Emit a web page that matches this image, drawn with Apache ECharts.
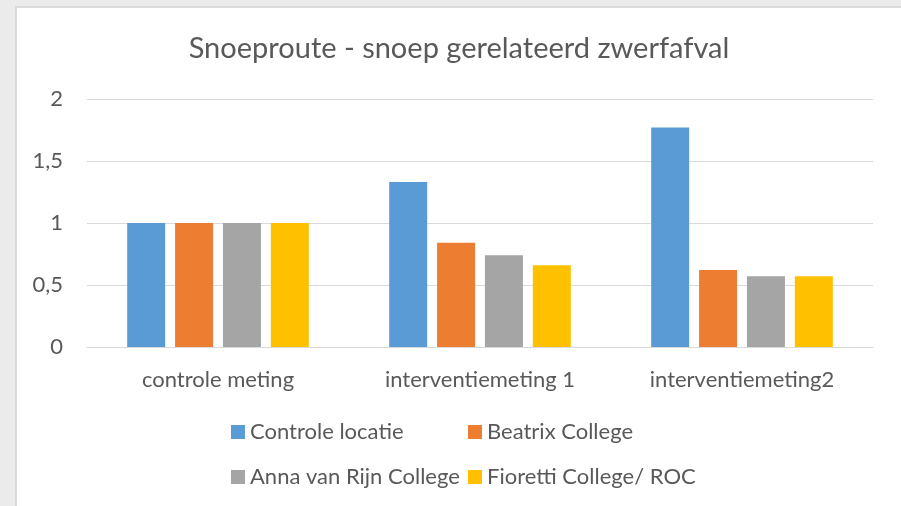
<!DOCTYPE html>
<html>
<head>
<meta charset="utf-8">
<script src="https://cdn.jsdelivr.net/npm/echarts@6/dist/echarts.min.js"></script>
<style>
	html,body{margin:0;padding:0;background:#ebebeb;width:901px;height:506px;overflow:hidden;}
	#main{position:absolute;left:15px;top:6px;width:884px;height:498px;background:#fff;border-left:2px solid #dadada;border-top:2px solid #dadada;}
</style>
</head>
<body>
<div id="main"></div>
<script type="text/javascript">
var categories = ['controle meting', 'interventiemeting 1', 'interventiemeting2'];
var controleLocatie = [1, 1.33, 1.77];
var beatrixCollege = [1, 0.84, 0.62];
var annaVanRijn = [1, 0.74, 0.57];
var fiorettiRoc = [1, 0.66, 0.57];
var yTicks = [0, 0.5, 1, 1.5, 2];

var tekst = '#595959';
var font = 'Lato';

var myChart = echarts.init(document.getElementById('main'));
var option = {
	animation: false,
	color: ['#5b9bd5', '#ed7d31', '#a5a5a5', '#ffc000'],
	title: {
		text: 'Snoeproute - snoep gerelateerd zwerfafval',
		left: 'center',
		top: 21,
		textStyle: {color: tekst, fontFamily: font, fontWeight: 'normal', fontSize: 29}
	},
	legend: [{
		orient: 'vertical',
		left: 214,
		top: 413,
		padding: 0,
		itemWidth: 14,
		itemHeight: 14,
		itemGap: 23,
		icon: 'rect',
		data: ['Controle locatie', 'Anna van Rijn College'],
		textStyle: {color: tekst, fontFamily: font, fontSize: 22}
	}, {
		orient: 'vertical',
		left: 451,
		top: 413,
		padding: 0,
		itemWidth: 14,
		itemHeight: 14,
		itemGap: 23,
		icon: 'rect',
		data: ['Beatrix College', 'Fioretti College/ ROC'],
		textStyle: {color: tekst, fontFamily: font, fontSize: 22}
	}],
	grid: {left: 70, right: 28, top: 91, bottom: 159},
	xAxis: {
		type: 'category',
		data: categories,
		axisLine: {lineStyle: {color: '#d9d9d9', width: 1}},
		axisTick: {show: false},
		axisLabel: {color: tekst, fontFamily: font, fontSize: 22, margin: 22}
	},
	yAxis: {
		type: 'value',
		min: yTicks[0],
		max: yTicks[yTicks.length - 1],
		interval: 0.5,
		axisLine: {show: false},
		axisTick: {show: false},
		splitLine: {lineStyle: {color: '#d9d9d9', width: 1}},
		axisLabel: {
			color: tekst, fontFamily: font, fontSize: 22, margin: 24,
			formatter: function (v) { return String(v).replace('.', ','); }
		}
	},
	series: [
		{name: 'Controle locatie', type: 'bar', data: controleLocatie, barWidth: 38, barGap: '26%'},
		{name: 'Beatrix College', type: 'bar', data: beatrixCollege, barWidth: 38, barGap: '26%'},
		{name: 'Anna van Rijn College', type: 'bar', data: annaVanRijn, barWidth: 38, barGap: '26%'},
		{name: 'Fioretti College/ ROC', type: 'bar', data: fiorettiRoc, barWidth: 38, barGap: '26%'}
	]
};
myChart.setOption(option);
</script>
</body>
</html>
